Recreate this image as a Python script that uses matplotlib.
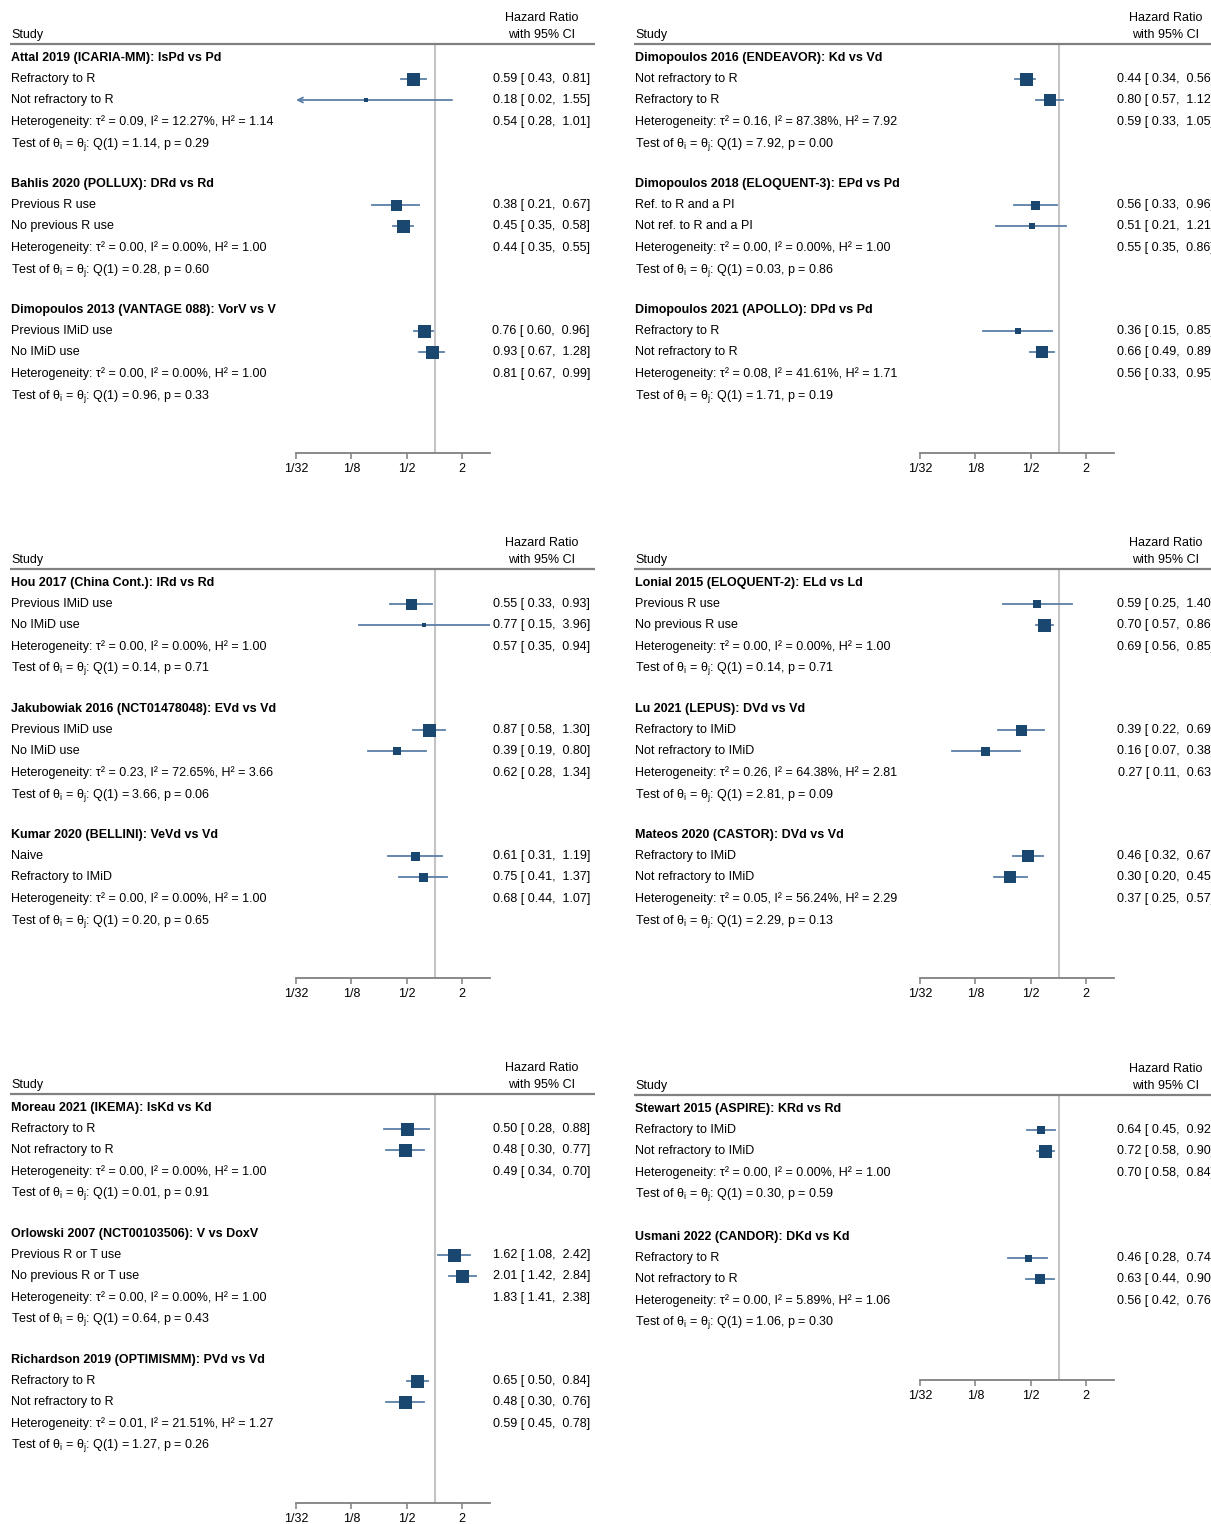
import numpy as np
import matplotlib
matplotlib.use('Agg')
import matplotlib.pyplot as plt
import matplotlib.transforms as mtransforms
from matplotlib.ticker import FixedLocator, FixedFormatter, NullLocator

plt.rcParams['font.family'] = ['Liberation Sans', 'DejaVu Sans']
plt.rcParams['font.size'] = 9

# ---- data (one entry per study) ----
study_titles = [
    'Attal 2019 (ICARIA-MM): IsPd vs Pd',
    'Bahlis 2020 (POLLUX): DRd vs Rd',
    'Dimopoulos 2013 (VANTAGE 088): VorV vs V',
    'Dimopoulos 2016 (ENDEAVOR): Kd vs Vd',
    'Dimopoulos 2018 (ELOQUENT-3): EPd vs Pd',
    'Dimopoulos 2021 (APOLLO): DPd vs Pd',
    'Hou 2017 (China Cont.): IRd vs Rd',
    'Jakubowiak 2016 (NCT01478048): EVd vs Vd',
    'Kumar 2020 (BELLINI): VeVd vs Vd',
    'Lonial 2015 (ELOQUENT-2): ELd vs Ld',
    'Lu 2021 (LEPUS): DVd vs Vd',
    'Mateos 2020 (CASTOR): DVd vs Vd',
    'Moreau 2021 (IKEMA): IsKd vs Kd',
    'Orlowski 2007 (NCT00103506): V vs DoxV',
    'Richardson 2019 (OPTIMISMM): PVd vs Vd',
    'Stewart 2015 (ASPIRE): KRd vs Rd',
    'Usmani 2022 (CANDOR): DKd vs Kd',
]

subgroups = [
    ['Refractory to R', 'Not refractory to R'],
    ['Previous R use', 'No previous R use'],
    ['Previous IMiD use', 'No IMiD use'],
    ['Not refractory to R', 'Refractory to R'],
    ['Ref. to R and a PI', 'Not ref. to R and a PI'],
    ['Refractory to R', 'Not refractory to R'],
    ['Previous IMiD use', 'No IMiD use'],
    ['Previous IMiD use', 'No IMiD use'],
    ['Naive', 'Refractory to IMiD'],
    ['Previous R use', 'No previous R use'],
    ['Refractory to IMiD', 'Not refractory to IMiD'],
    ['Refractory to IMiD', 'Not refractory to IMiD'],
    ['Refractory to R', 'Not refractory to R'],
    ['Previous R or T use', 'No previous R or T use'],
    ['Refractory to R', 'Not refractory to R'],
    ['Refractory to IMiD', 'Not refractory to IMiD'],
    ['Refractory to R', 'Not refractory to R'],
]

hr = [[0.59, 0.18], [0.38, 0.45], [0.76, 0.93], [0.44, 0.80], [0.56, 0.51],
      [0.36, 0.66], [0.55, 0.77], [0.87, 0.39], [0.61, 0.75], [0.59, 0.70],
      [0.39, 0.16], [0.46, 0.30], [0.50, 0.48], [1.62, 2.01], [0.65, 0.48],
      [0.64, 0.72], [0.46, 0.63]]
ci_lo = [[0.43, 0.02], [0.21, 0.35], [0.60, 0.67], [0.34, 0.57], [0.33, 0.21],
         [0.15, 0.49], [0.33, 0.15], [0.58, 0.19], [0.31, 0.41], [0.25, 0.57],
         [0.22, 0.07], [0.32, 0.20], [0.28, 0.30], [1.08, 1.42], [0.50, 0.30],
         [0.45, 0.58], [0.28, 0.44]]
ci_hi = [[0.81, 1.55], [0.67, 0.58], [0.96, 1.28], [0.56, 1.12], [0.96, 1.21],
         [0.85, 0.89], [0.93, 3.96], [1.30, 0.80], [1.19, 1.37], [1.40, 0.86],
         [0.69, 0.38], [0.67, 0.45], [0.88, 0.77], [2.42, 2.84], [0.84, 0.76],
         [0.92, 0.90], [0.74, 0.90]]
# box side (study weight)
box_weight = [[13, 4], [11, 13], [13, 13], [13, 12], [9, 6], [6, 12], [11, 4],
              [13, 8], [9, 9], [8, 13], [11, 9], [12, 12], [13, 13], [13, 13],
              [13, 13], [8, 13], [7, 10]]

tau2 = [0.09, 0.00, 0.00, 0.16, 0.00, 0.08, 0.00, 0.23, 0.00, 0.00, 0.26, 0.05,
        0.00, 0.00, 0.01, 0.00, 0.00]
i2 = [12.27, 0.00, 0.00, 87.38, 0.00, 41.61, 0.00, 72.65, 0.00, 0.00, 64.38,
      56.24, 0.00, 0.00, 21.51, 0.00, 5.89]
h2 = [1.14, 1.00, 1.00, 7.92, 1.00, 1.71, 1.00, 3.66, 1.00, 1.00, 2.81, 2.29,
      1.00, 1.00, 1.27, 1.00, 1.06]
pooled_hr = [0.54, 0.44, 0.81, 0.59, 0.55, 0.56, 0.57, 0.62, 0.68, 0.69, 0.27,
             0.37, 0.49, 1.83, 0.59, 0.70, 0.56]
pooled_lo = [0.28, 0.35, 0.67, 0.33, 0.35, 0.33, 0.35, 0.28, 0.44, 0.56, 0.11,
             0.25, 0.34, 1.41, 0.45, 0.58, 0.42]
pooled_hi = [1.01, 0.55, 0.99, 1.05, 0.86, 0.95, 0.94, 1.34, 1.07, 0.85, 0.63,
             0.57, 0.70, 2.38, 0.78, 0.84, 0.76]
q_stat = [1.14, 0.28, 0.96, 7.92, 0.03, 1.71, 0.14, 3.66, 0.20, 0.14, 2.81,
          2.29, 0.01, 0.64, 1.27, 0.30, 1.06]
p_val = [0.29, 0.60, 0.33, 0.00, 0.86, 0.19, 0.71, 0.06, 0.65, 0.71, 0.09,
         0.13, 0.91, 0.43, 0.26, 0.59, 0.30]

tick_vals = [1/32, 1/8, 1/2, 2]
tick_labels = ['1/32', '1/8', '1/2', '2']

# ---- layout (pixels) ----
W, H = 1211, 1524
panels = [  # (x offset, header line y, block pitch, studies)
    (0, 44, 126, [0, 1, 2]),
    (624, 44, 126, [3, 4, 5]),
    (0, 569, 126, [6, 7, 8]),
    (624, 569, 126, [9, 10, 11]),
    (0, 1094, 126, [12, 13, 14]),
    (624, 1095, 128, [15, 16]),
]
row_off = [13, 35, 56, 78, 100]

box_col = '#1a476f'
ci_col = '#5a7fa6'


def ci_text(h, lo, hi):
    return f'{h:.2f} [{lo:5.2f}, {hi:5.2f}]'


fig = plt.figure(figsize=(W / 100, H / 100), dpi=100)

for x0, top, block, studies in panels:
    n = len(studies)
    axis_off = row_off[0] + block * (n - 1) + 87 + 57
    ax = fig.add_axes([(x0 + 296) / W, 1 - (top + axis_off) / H, 194 / W, axis_off / H])
    ax.set_xscale('log', base=2)
    ax.set_xlim(1/32, 4)
    ax.set_ylim(axis_off, 0)
    trans = mtransforms.blended_transform_factory(fig.transFigure, ax.transData)

    def fx(dx):
        return (x0 + dx) / W

    # header
    ax.text(fx(11), -9, 'Study', ha='left', va='center', transform=trans)
    ax.text(fx(542), -26, 'Hazard Ratio', ha='center', va='center', transform=trans)
    ax.text(fx(542), -9, 'with 95% CI', ha='center', va='center', transform=trans)
    ax.plot([fx(10), fx(595)], [0, 0], transform=trans, clip_on=False,
            color='#808080', lw=1.6, solid_capstyle='butt')

    ax.axvline(1, color='#c4c4c4', lw=1.5, zorder=0)

    for b, s in enumerate(studies):
        yb = block * b
        ax.text(fx(11), yb + row_off[0] + 1, study_titles[s], ha='left', va='center',
                fontweight='bold', transform=trans)
        for k in range(2):
            y = yb + row_off[1 + k]
            ax.text(fx(11), y, subgroups[s][k], ha='left', va='center', transform=trans)
            ax.text(fx(590), y, ci_text(hr[s][k], ci_lo[s][k], ci_hi[s][k]),
                    ha='right', va='center', transform=trans)
            lo, hi = ci_lo[s][k], ci_hi[s][k]
            if lo < 1/32:
                ax.annotate('', xy=(1/32, y), xytext=(hi, y),
                            arrowprops=dict(arrowstyle='->', color=ci_col, lw=1.3,
                                            shrinkA=0, shrinkB=0,
                                            mutation_scale=9))
            else:
                ax.plot([lo, hi], [y, y], color=ci_col, lw=1.3, zorder=2)
            ax.plot([hr[s][k]], [y], marker='s', color=box_col,
                    markersize=box_weight[s][k] * 0.72, markeredgewidth=0, zorder=3)
        y = yb + row_off[3]
        ax.text(fx(11), y, f'Heterogeneity: τ² = {tau2[s]:.2f}, I² = {i2[s]:.2f}%, '
                f'H² = {h2[s]:.2f}', ha='left', va='center', transform=trans)
        ax.text(fx(590), y, ci_text(pooled_hr[s], pooled_lo[s], pooled_hi[s]),
                ha='right', va='center', transform=trans)
        y = yb + row_off[4]
        ax.text(fx(11), y, r'Test of θ$_\mathregular{i}$ = θ$_\mathregular{j}$: '
                f'Q(1) = {q_stat[s]:.2f}, p = {p_val[s]:.2f}',
                ha='left', va='center', transform=trans)

    for side in ['top', 'left', 'right']:
        ax.spines[side].set_visible(False)
    ax.spines['bottom'].set_color('#808080')
    ax.spines['bottom'].set_linewidth(1.3)
    ax.yaxis.set_major_locator(NullLocator())
    ax.xaxis.set_major_locator(FixedLocator(tick_vals))
    ax.xaxis.set_major_formatter(FixedFormatter(tick_labels))
    ax.xaxis.set_minor_locator(NullLocator())
    ax.tick_params(axis='x', length=4, width=1.1, color='#808080', pad=3,
                   labelsize=9)
    ax.patch.set_visible(False)

fig.savefig('out.png', dpi=100)
